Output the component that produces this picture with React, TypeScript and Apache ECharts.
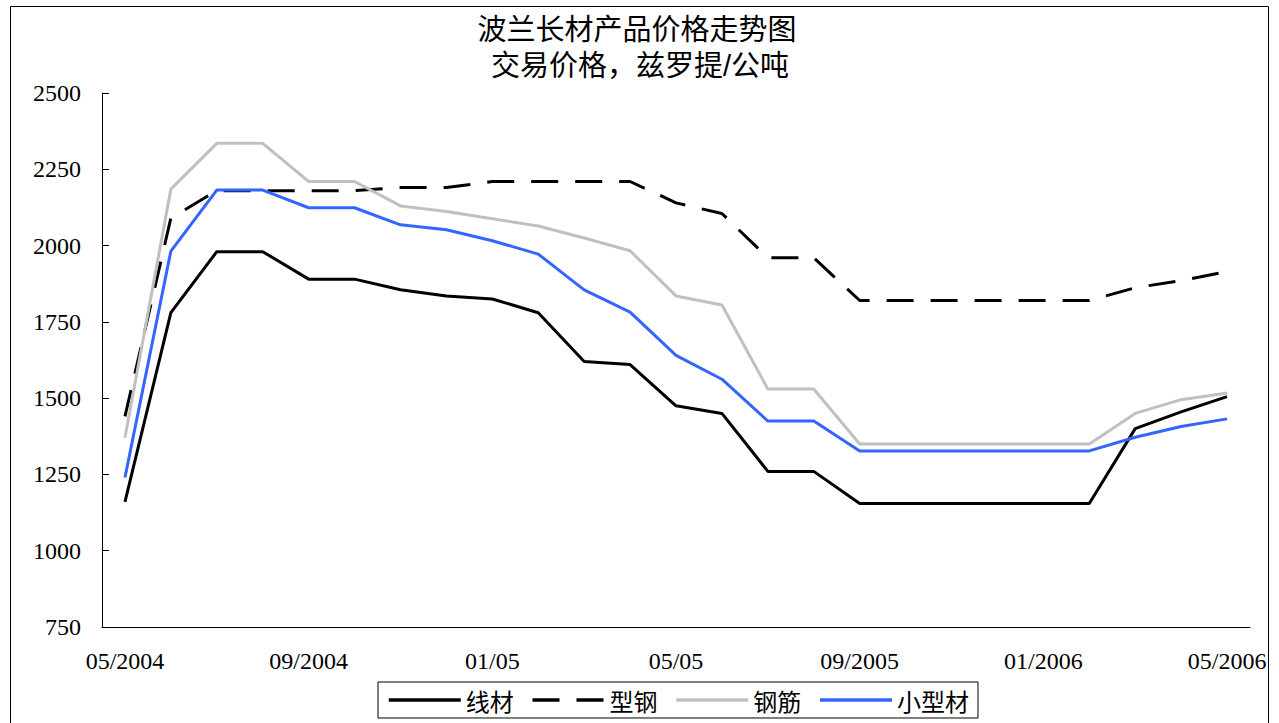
import React, { useEffect, useRef } from "react";
import * as echarts from "echarts";

const categories = [
  "05/2004", "06/2004", "07/2004", "08/2004", "09/2004", "10/2004", "11/2004", "12/2004",
  "01/05", "02/05", "03/05", "04/05", "05/05", "06/05", "07/05", "08/05",
  "09/2005", "10/2005", "11/2005", "12/2005", "01/2006", "02/2006", "03/2006", "04/2006", "05/2006",
];

const wireRod = [1160, 1780, 1980, 1980, 1890, 1890, 1855, 1835, 1825, 1780, 1620, 1610, 1475, 1450, 1260, 1260, 1155, 1155, 1155, 1155, 1155, 1155, 1400, 1455, 1505];
const sections = [1440, 2090, 2180, 2180, 2180, 2180, 2190, 2190, 2210, 2210, 2210, 2210, 2140, 2105, 1960, 1960, 1820, 1820, 1820, 1820, 1820, 1820, 1862, 1885, 1915];
const rebar = [1370, 2185, 2335, 2335, 2210, 2210, 2130, 2112, 2088, 2064, 2025, 1983, 1835, 1805, 1530, 1530, 1350, 1350, 1350, 1350, 1350, 1350, 1450, 1495, 1517];
const smallSections = [1240, 1982, 2182, 2182, 2124, 2124, 2068, 2052, 2016, 1972, 1855, 1782, 1640, 1562, 1425, 1425, 1327, 1327, 1327, 1327, 1327, 1327, 1372, 1407, 1432];

const seriesNames = ["线材", "型钢", "钢筋", "小型材"];
const titleLines = ["波兰长材产品价格走势图", "交易价格，兹罗提/公吨"];

const numFont = "'Liberation Serif', 'DejaVu Serif', serif";
const cjkFont = "'Noto Sans CJK SC', 'Noto Sans', sans-serif";
const titleFont = "'Liberation Sans', 'Noto Sans CJK SC', sans-serif";

const DASH = [27, 17];

export default function App() {
  const ref = useRef<HTMLDivElement>(null);
  useEffect(() => {
    if (!ref.current) return;
    const chart = echarts.init(ref.current, null, { renderer: "svg" });
    const mk = (name: string, data: number[], color: string, dash: any) => ({
      name,
      type: "line",
      data,
      symbol: "none",
      lineStyle: { color, width: 3, type: dash },
      itemStyle: { color },
      z: 2,
    });
    const titleStyle = {
      fontFamily: titleFont,
      fontSize: 29,
      fontWeight: "normal",
      color: "#000",
      lineHeight: 30,
    };
    chart.setOption({
      animation: false,
      backgroundColor: "#ffffff",
      title: [
        { text: titleLines[0], left: 637, textAlign: "center", top: 15, padding: 0, textStyle: titleStyle },
        { text: titleLines[1], left: 640, textAlign: "center", top: 51, padding: 0, textStyle: titleStyle },
      ],
      graphic: [
        {
          type: "rect",
          shape: { x: 10.5, y: 6.5, width: 1258, height: 740 },
          style: { fill: "none", stroke: "#000", lineWidth: 1 },
          silent: true,
          z: 0,
        },
      ],
      legend: {
        left: 378,
        top: 682,
        orient: "horizontal",
        itemWidth: 72,
        itemHeight: 24,
        itemGap: 17,
        padding: [6, 9],
        borderColor: "#000",
        borderWidth: 1,
        itemStyle: { opacity: 0, borderWidth: 0 },
        textStyle: { fontFamily: cjkFont, fontSize: 24, color: "#000" },
        data: [
          { name: seriesNames[0], lineStyle: { width: 3.5, type: "solid", color: "#000000" } },
          { name: seriesNames[1], lineStyle: { width: 3.5, type: DASH, color: "#000000" } },
          { name: seriesNames[2], lineStyle: { width: 3.5, type: "solid", color: "#c0c0c0" } },
          { name: seriesNames[3], lineStyle: { width: 3.5, type: "solid", color: "#3366ff" } },
        ],
      },
      grid: { left: 102, right: 29, top: 93, bottom: 96 },
      xAxis: {
        type: "category",
        data: categories,
        boundaryGap: true,
        axisLine: { lineStyle: { color: "#000", width: 1 } },
        axisTick: { inside: true, length: 7, interval: 0, lineStyle: { color: "#000" } },
        axisLabel: {
          interval: 3,
          margin: 22,
          color: "#000",
          fontFamily: numFont,
          fontSize: 24,
          lineHeight: 24,
          showMaxLabel: true,
        },
        splitLine: { show: false },
      },
      yAxis: {
        type: "value",
        min: 750,
        max: 2500,
        interval: 250,
        axisLine: { show: true, lineStyle: { color: "#000", width: 1 } },
        axisTick: { show: true, inside: true, length: 7, lineStyle: { color: "#000" } },
        axisLabel: {
          margin: 21,
          color: "#000",
          fontFamily: numFont,
          fontSize: 24,
          formatter: (v: number) => String(v),
        },
        splitLine: { show: false },
      },
      series: [
        mk(seriesNames[0], wireRod, "#000000", "solid"),
        mk(seriesNames[1], sections, "#000000", DASH),
        mk(seriesNames[2], rebar, "#c0c0c0", "solid"),
        mk(seriesNames[3], smallSections, "#3366ff", "solid"),
      ],
    });
    return () => chart.dispose();
  }, []);
  return (
    <div
      ref={ref}
      style={{ position: "fixed", left: 0, top: 0, width: 1279, height: 723, background: "#fff" }}
    />
  );
}
